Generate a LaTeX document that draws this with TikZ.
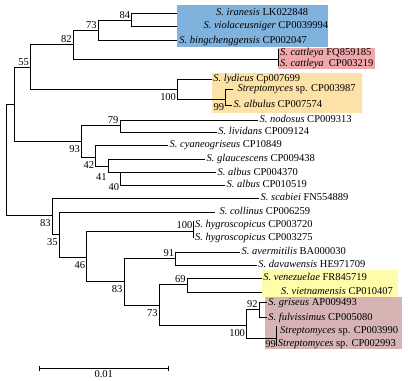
\documentclass[tikz,border=0pt]{standalone}
\usepackage{fontspec}
\setmainfont{Liberation Serif}
\usetikzlibrary{arrows.meta}
\definecolor{boxblue}{RGB}{128,178,222}
\definecolor{boxpink}{RGB}{240,168,172}
\definecolor{boxorange}{RGB}{252,226,166}
\definecolor{boxyellow}{RGB}{255,253,170}
\definecolor{boxmauve}{RGB}{214,180,180}

\begin{document}
\begin{tikzpicture}[x=1pt,y=-1pt,
  branch/.style={line width=0.8pt},
  taxon/.style={anchor=base west,inner sep=0pt,xshift=1.5pt,yshift=-2.5pt,font=\fontsize{10.5}{12}\selectfont},
  boot/.style={inner sep=0pt,font=\fontsize{10.5}{12}\selectfont},
  bsup/.style={boot,anchor=base east,xshift=-1.5pt,yshift=2pt},
  bsdown/.style={boot,anchor=north east,xshift=-1.5pt,yshift=-4pt}]

  \useasboundingbox (0,0) rectangle (408,381);

  % clade boxes
  \fill[boxblue]   (177,5)     rectangle (328.3,46.7);
  \fill[boxpink]   (277.7,48.3) rectangle (375,69.3);
  \fill[boxorange] (211.7,72.7) rectangle (361.7,112.7);
  \fill[boxyellow] (261.7,270)  rectangle (398.3,296.7);
  \fill[boxmauve]  (265,297.3)  rectangle (401.7,349.3);

  % inner nodes
  \coordinate (root)  at (6.7,160);
  \coordinate (nA)    at (14.3,104.3);
  \coordinate (n55)   at (30.7,67.7);
  \coordinate (n82)   at (73.3,44.3);
  \coordinate (n73)   at (98.3,30.3);
  \coordinate (n84)   at (131.7,20);
  \coordinate (ncat)  at (278.3,59.3);
  \coordinate (n100a) at (177.7,89.3);
  \coordinate (n99a)  at (225.7,99.3);
  \coordinate (n93)   at (81.7,141);
  \coordinate (n79)   at (120,125);
  \coordinate (n42)   at (95.7,157.7);
  \coordinate (n41)   at (108.3,166);
  \coordinate (n40)   at (120.7,172.7);
  \coordinate (n83a)  at (52.3,215.7);
  \coordinate (n35)   at (59.3,234.3);
  \coordinate (n46)   at (86.7,257.3);
  \coordinate (n100b) at (193.3,231.7);
  \coordinate (n83b)  at (124,281);
  \coordinate (n91)   at (175.7,258.3);
  \coordinate (n73b)  at (159.3,305);
  \coordinate (n69)   at (187.3,284.3);
  \coordinate (n100c) at (246.7,325);
  \coordinate (n92)   at (259.3,309.3);
  \coordinate (n99b)  at (276.7,338.3);

  % leaves
  \coordinate (iran)   at (176.7,13.3);
  \coordinate (viol)   at (176.7,26);
  \coordinate (bing)   at (176.7,40.7);
  \coordinate (cat1)   at (278.3,49.3);
  \coordinate (cat2)   at (278.3,66);
  \coordinate (lyd)    at (211.7,79);
  \coordinate (sp3987) at (233.3,89.3);
  \coordinate (albul)  at (232,105.3);
  \coordinate (nod)    at (258,120);
  \coordinate (liv)    at (216.7,132.3);
  \coordinate (cyan)   at (168,145);
  \coordinate (glau)   at (205,159.3);
  \coordinate (alb1)   at (216,172.7);
  \coordinate (alb2)   at (225,185);
  \coordinate (scab)   at (259,198.3);
  \coordinate (coll)   at (215,212.3);
  \coordinate (hyg1)   at (193.3,220.5);
  \coordinate (hyg2)   at (193.3,237.5);
  \coordinate (aver)   at (240,252.3);
  \coordinate (dava)   at (256.7,265);
  \coordinate (vene)   at (261.7,278.3);
  \coordinate (viet)   at (261.7,292.3);
  \coordinate (gris)   at (266.7,302.7);
  \coordinate (fulv)   at (266.7,317.7);
  \coordinate (sp3990) at (276.7,326);
  \coordinate (sp2993) at (276.7,346);

  \foreach \p/\c in {root/nA, root/n83a, nA/n55, nA/n93, n55/n82, n55/n100a,
      n82/n73, n82/ncat, n73/n84, n73/bing, n84/iran, n84/viol, ncat/cat1, ncat/cat2,
      n100a/lyd, n100a/n99a, n99a/sp3987, n99a/albul, n93/n79, n93/n42, n79/nod, n79/liv,
      n42/cyan, n42/n41, n41/glau, n41/n40, n40/alb1, n40/alb2, n83a/scab, n83a/n35,
      n35/coll, n35/n46, n46/n100b, n46/n83b, n100b/hyg1, n100b/hyg2, n83b/n91, n83b/n73b,
      n91/aver, n91/dava, n73b/n69, n73b/n100c, n69/vene, n69/viet, n100c/n92, n100c/n99b,
      n92/gris, n92/fulv, n99b/sp3990, n99b/sp2993}
    \draw[branch] (\p) |- (\c);

  % taxa
  \node[taxon,xshift=37.8pt] (tiran) at (iran) {\textit{S. iranesis} LK022848};
  \node[taxon,xshift=25.1pt] (tviol) at (viol) {\textit{S. violaceusniger} CP0039994};
  \node[taxon,xshift=1pt] (tbing) at (bing) {\textit{S. bingchenggensis} CP002047};
  \node[taxon,yshift=-3.9pt] (tcat1) at (cat1) {\textit{S. cattleya} FQ859185};
  \node[taxon,yshift=1.8pt] (tcat2) at (cat2) {\textit{S. cattleya}\ \ CP003219};
  \node[taxon] (tlyd) at (lyd) {\textit{S. lydicus} Cp007699};
  \node[taxon,xshift=2.5pt] (tsp3987) at (sp3987) {\textit{Streptomyces} sp. CP003987};
  \node[taxon] (talbul) at (albul) {\textit{S. albulus} CP007574};
  \node[taxon] (tnod) at (nod) {\textit{S. nodosus} CP009313};
  \node[taxon] (tliv) at (liv) {\textit{S. lividans} CP009124};
  \node[taxon] (tcyan) at (cyan) {\textit{S. cyaneogriseus} CP10849};
  \node[taxon] (tglau) at (glau) {\textit{S. glaucescens} CP009438};
  \node[taxon] (talb1) at (alb1) {\textit{S. albus} CP004370};
  \node[taxon] (talb2) at (alb2) {\textit{S. albus} CP010519};
  \node[taxon] (tscab) at (scab) {\textit{S. scabiei} FN554889};
  \node[taxon,xshift=2.8pt] (tcoll) at (coll) {\textit{S. collinus} CP006259};
  \node[taxon,yshift=-4.4pt] (thyg1) at (hyg1) {\textit{S. hygroscopicus} CP003720};
  \node[taxon] (thyg2) at (hyg2) {\textit{S. hygroscopicus} CP003275};
  \node[taxon] (taver) at (aver) {\textit{S. avermitilis} BA000030};
  \node[taxon] (tdava) at (dava) {\textit{S. davawensis} HE971709};
  \node[taxon] (tvene) at (vene) {\textit{S. venezuelae} FR845719};
  \node[taxon,xshift=17.8pt] (tviet) at (viet) {\textit{S. vietnamensis} CP010407};
  \node[taxon] (tgris) at (gris) {\textit{S. griseus} AP009493};
  \node[taxon] (tfulv) at (fulv) {\textit{S. fulvissimus} CP005080};
  \node[taxon,xshift=1.8pt,yshift=-4.9pt] (tsp3990) at (sp3990) {\textit{Streptomyces} sp. CP003990};
  \node[taxon,xshift=-0.5pt,yshift=1.8pt] (tsp2993) at (sp2993) {\textit{Streptomyces} sp. CP002993};

  % bootstrap values
  \node[bsup] (b55) at (n55) {55};
  \node[bsup] (b82) at (n82) {82};
  \node[bsup] (b73) at (n73) {73};
  \node[bsup] (b84) at (n84) {84};
  \node[bsdown] (b100a) at (n100a) {100};
  \node[bsdown] (b99a) at (n99a) {99};
  \node[bsup] (b79) at (n79) {79};
  \node[bsdown] (b93) at (n93) {93};
  \node[bsdown] (b42) at (n42) {42};
  \node[bsdown,yshift=-3.2pt] (b41) at (n41) {41};
  \node[bsdown,yshift=-6.5pt] (b40) at (n40) {40};
  \node[bsdown] (b83a) at (n83a) {83};
  \node[bsdown] (b35) at (n35) {35};
  \node[bsdown] (b46) at (n46) {46};
  \node[boot,anchor=north east,xshift=-0.8pt,yshift=-1pt] (b100b) at (hyg1) {100};
  \node[bsdown] (b83b) at (n83b) {83};
  \node[bsup] (b91) at (n91) {91};
  \node[bsdown] (b73b) at (n73b) {73};
  \node[bsup] (b69) at (n69) {69};
  \node[bsdown] (b100c) at (n100c) {100};
  \node[bsup] (b92) at (n92) {92};
  \node[bsdown,xshift=0.8pt,yshift=1.8pt] (b99b) at (n99b) {99};

  % scale bar
  \coordinate (sbl) at (39.3,368.3);
  \coordinate (sbr) at (168.3,368.3);
  \draw[branch,{Bar[width=5pt]}-{Bar[width=5pt]}] (sbl) -- (sbr)
    node[boot,midway,anchor=base,yshift=-9.4pt] (sblab) {0.01};
\end{tikzpicture}
\end{document}
